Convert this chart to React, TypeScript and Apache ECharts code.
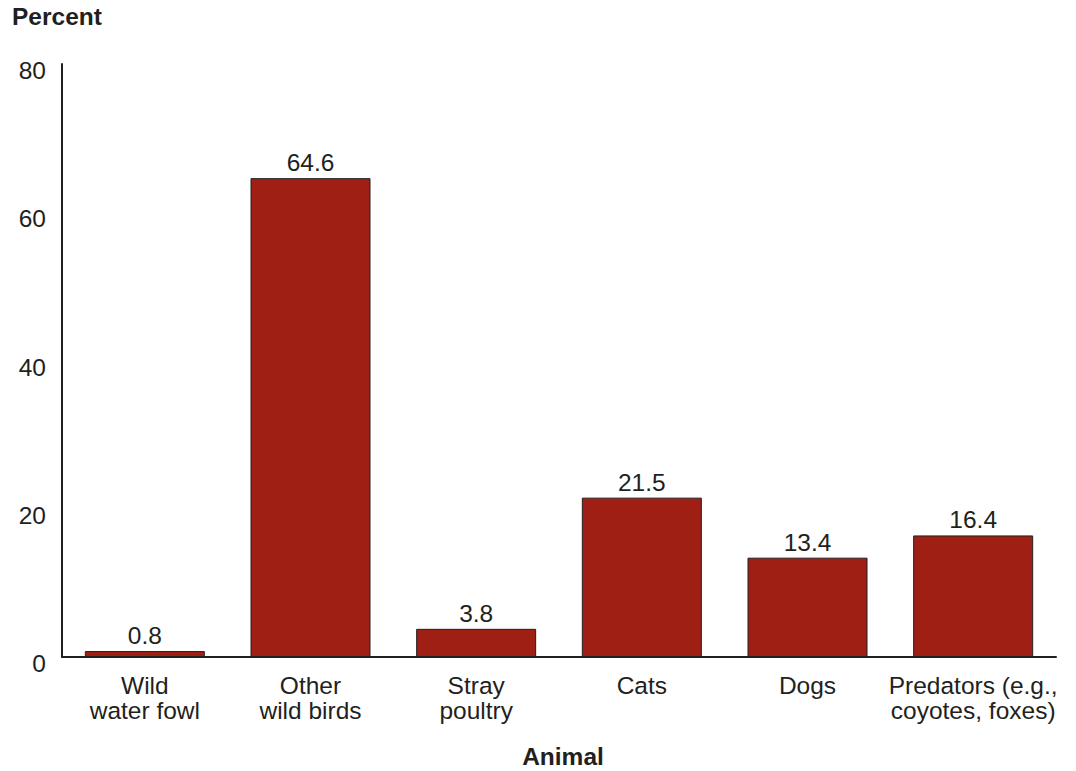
import React, { useEffect, useRef } from "react";
import * as echarts from "echarts";

const categories = [
  "Wild\nwater fowl",
  "Other\nwild birds",
  "Stray\npoultry",
  "Cats",
  "Dogs",
  "Predators (e.g.,\ncoyotes, foxes)",
];
const percentValues = [0.8, 64.6, 3.8, 21.5, 13.4, 16.4];
const yTicks = { min: 0, max: 80, interval: 20 };

const INK = "#231f20";
const BAR = "#a01f14";
const FONT = "'Liberation Sans', Arial, sans-serif";
const SIZE = 24.5;

export default function App() {
  const ref = useRef<HTMLDivElement>(null);

  useEffect(() => {
    document.body.style.margin = "0";
    if (!ref.current) return;
    const chart = echarts.init(ref.current, undefined, { renderer: "svg" });
    chart.setOption({
      animation: false,
      backgroundColor: "#ffffff",
      textStyle: { fontFamily: FONT, color: INK },
      grid: { left: 62, right: 20, top: 64, bottom: 114, containLabel: false },
      xAxis: {
        type: "category",
        data: categories,
        axisLine: { show: true, lineStyle: { color: INK, width: 2 } },
        axisTick: { show: false },
        axisLabel: {
          interval: 0,
          fontSize: SIZE,
          lineHeight: 25,
          color: INK,
          fontFamily: FONT,
          margin: 16,
        },
        splitLine: { show: false },
      },
      yAxis: {
        type: "value",
        min: yTicks.min,
        max: yTicks.max,
        interval: yTicks.interval,
        axisLine: { show: true, lineStyle: { color: INK, width: 2 } },
        axisTick: { show: false },
        splitLine: { show: false },
        axisLabel: {
          fontSize: SIZE,
          color: INK,
          fontFamily: FONT,
          margin: 16,
          verticalAlign: "top",
          lineHeight: 13,
        },
      },
      series: [
        {
          type: "bar",
          data: percentValues,
          barWidth: 120,
          itemStyle: { color: BAR, borderColor: INK, borderWidth: 1 },
          label: {
            show: true,
            position: "top",
            distance: 3,
            fontSize: SIZE,
            color: INK,
            fontFamily: FONT,
            formatter: (p: any) => p.value.toFixed(1),
          },
        },
      ],
      graphic: [
        {
          type: "text",
          left: 12,
          top: 4,
          style: {
            text: "Percent",
            font: `bold ${SIZE}px ${FONT}`,
            fill: INK,
          },
        },
        {
          type: "text",
          x: 563,
          y: 744,
          style: {
            text: "Animal",
            font: `bold ${SIZE}px ${FONT}`,
            fill: INK,
            align: "center",
            verticalAlign: "top",
          },
        },
      ],
    });
    return () => chart.dispose();
  }, []);

  return <div ref={ref} style={{ width: 1076, height: 771 }} />;
}
